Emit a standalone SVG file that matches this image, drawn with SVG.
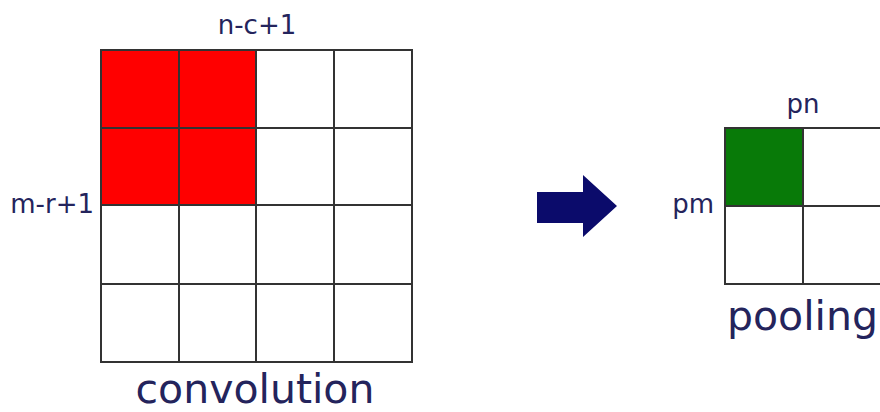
<svg xmlns="http://www.w3.org/2000/svg" width="880" height="412" viewBox="0 0 880 412">
<style>
.cell{fill:#ffffff;stroke:#333333;stroke-width:2}
.red{fill:#ff0000;stroke:#333333;stroke-width:2}
.green{fill:#087a08;stroke:#333333;stroke-width:2}
.lbl{font-family:"DejaVu Sans",sans-serif;fill:#24245c}
.small{font-size:26px}
.big{font-size:41px}
</style>
<rect width="880" height="412" fill="#ffffff"/>
<g id="conv-grid">
<rect class="red" x="101" y="50" width="78" height="78"/>
<rect class="red" x="179" y="50" width="77" height="78"/>
<rect class="cell" x="256" y="50" width="78" height="78"/>
<rect class="cell" x="334" y="50" width="78" height="78"/>
<rect class="red" x="101" y="128" width="78" height="77"/>
<rect class="red" x="179" y="128" width="77" height="77"/>
<rect class="cell" x="256" y="128" width="78" height="77"/>
<rect class="cell" x="334" y="128" width="78" height="77"/>
<rect class="cell" x="101" y="205" width="78" height="79"/>
<rect class="cell" x="179" y="205" width="77" height="79"/>
<rect class="cell" x="256" y="205" width="78" height="79"/>
<rect class="cell" x="334" y="205" width="78" height="79"/>
<rect class="cell" x="101" y="284" width="78" height="78"/>
<rect class="cell" x="179" y="284" width="77" height="78"/>
<rect class="cell" x="256" y="284" width="78" height="78"/>
<rect class="cell" x="334" y="284" width="78" height="78"/>
</g>
<g id="conv-labels">
<text class="lbl small" x="257" y="34" text-anchor="middle">n-c+1</text>
<text class="lbl small" x="94" y="213" text-anchor="end">m-r+1</text>
<text class="lbl big" x="255" y="403" text-anchor="middle">convolution</text>
</g>
<g id="connectors">
<polygon points="537,192 583,192 583,175 617,206 583,237 583,223 537,223" fill="#0b0b6b"/>
</g>
<g id="pool-grid">
<rect class="green" x="725" y="128" width="78" height="78"/>
<rect class="cell" x="803" y="128" width="78" height="78"/>
<rect class="cell" x="725" y="206" width="78" height="78"/>
<rect class="cell" x="803" y="206" width="78" height="78"/>
</g>
<g id="pool-labels">
<text class="lbl small" x="803" y="113" text-anchor="middle">pn</text>
<text class="lbl small" x="714" y="213" text-anchor="end">pm</text>
<text class="lbl big" x="727" y="330">pooling</text>
</g>
</svg>
